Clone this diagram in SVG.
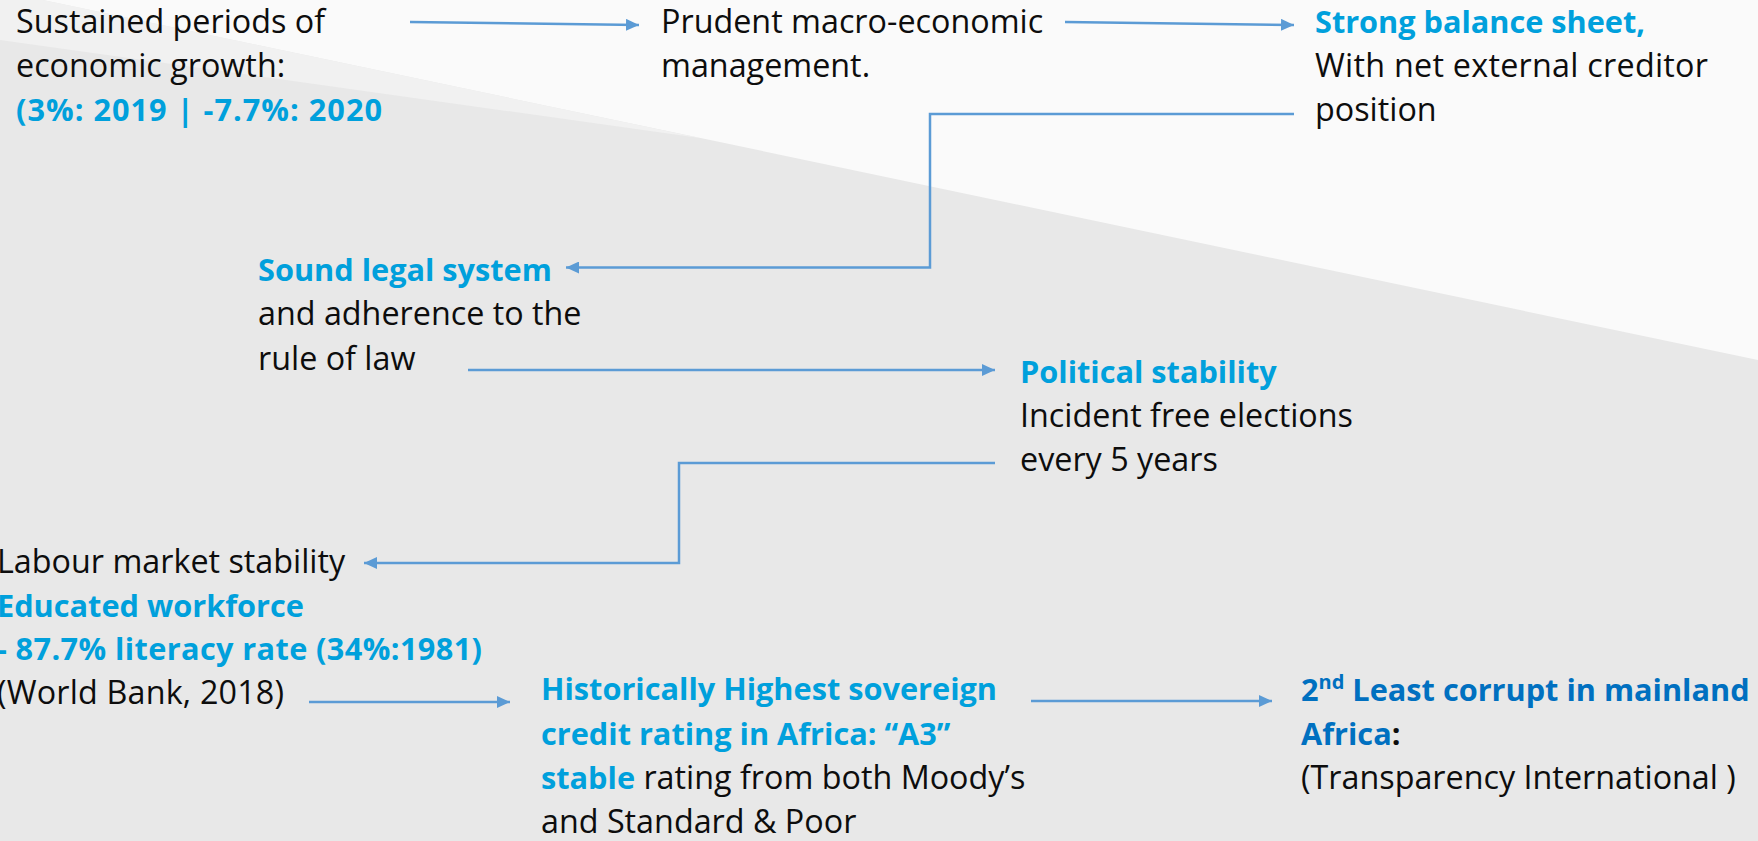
<svg xmlns="http://www.w3.org/2000/svg" width="1758" height="841" viewBox="0 0 1758 841">
<style>
  text { font-family: "Open Sans", "Liberation Sans", sans-serif; font-size: 32.3px; fill: #0d0d0d; }
  .b { font-weight: 700; font-size: 30.7px; fill: #00a0dc; }
  .d { font-weight: 700; font-size: 30.7px; fill: #0070c0; }
  .k { font-weight: 700; font-size: 30.7px; fill: #0d0d0d; }
  .c { fill: none; stroke: #5b9bd5; stroke-width: 2.5; }
</style>
<defs>
  <marker id="ah" markerUnits="userSpaceOnUse" markerWidth="13" markerHeight="12" viewBox="0 0 13 12" refX="13" refY="6" orient="auto">
    <path d="M0,0 L13,6 L0,12 z" fill="#5b9bd5"/>
  </marker>
</defs>
<g id="background">
  <rect x="0" y="0" width="1758" height="841" fill="#e8e8e8"/>
  <polygon points="0,-9 1758,360 1758,0 0,0" fill="#fafafa"/>
  <polygon points="0,-9 0,40 700,138" fill="#f1f1f1"/>
</g>
<g id="connectors">
  <path class="c" d="M410,22 L639,25" marker-end="url(#ah)"/>
  <path class="c" d="M1065,22 L1294,25" marker-end="url(#ah)"/>
  <path class="c" d="M1294,114 H930 V267.5 H566" marker-end="url(#ah)"/>
  <path class="c" d="M468,370 H995" marker-end="url(#ah)"/>
  <path class="c" d="M995,463 H679 V563 H364" marker-end="url(#ah)"/>
  <path class="c" d="M309,702 H510" marker-end="url(#ah)"/>
  <path class="c" d="M1031,701 H1272" marker-end="url(#ah)"/>
</g>
<g id="growth">
  <text x="16" y="33">Sustained periods of</text>
  <text x="16" y="77">economic growth:</text>
  <text x="16" y="121" class="b" textLength="366" lengthAdjust="spacing">(3%: 2019 | -7.7%: 2020</text>
</g>
<g id="macro">
  <text x="661" y="33">Prudent macro-economic</text>
  <text x="661" y="77">management.</text>
</g>
<g id="balance">
  <text x="1315" y="33" class="b" textLength="330" lengthAdjust="spacing">Strong balance sheet,</text>
  <text x="1315" y="77" textLength="393" lengthAdjust="spacing">With net external creditor</text>
  <text x="1315" y="121">position</text>
</g>
<g id="legal">
  <text x="258" y="281" class="b">Sound legal system</text>
  <text x="258" y="325">and adherence to the</text>
  <text x="258" y="370">rule of law</text>
</g>
<g id="political">
  <text x="1020" y="383" class="b">Political stability</text>
  <text x="1020" y="427">Incident free elections</text>
  <text x="1020" y="471">every 5 years</text>
</g>
<g id="labour">
  <text x="-3" y="573">Labour market stability</text>
  <text x="-3" y="616.5" class="b">Educated workforce</text>
  <text x="-3" y="660" class="b" textLength="485" lengthAdjust="spacing">- 87.7% literacy rate (34%:1981)</text>
  <text x="-3" y="703.5" textLength="287" lengthAdjust="spacing">(World Bank, 2018)</text>
</g>
<g id="rating">
  <text x="541" y="700" class="b">Historically Highest sovereign</text>
  <text x="541" y="744.5" class="b">credit rating in Africa: “A3”</text>
  <text x="541" y="789"><tspan class="b">stable</tspan> rating from both Moody’s</text>
  <text x="541" y="833">and Standard &amp; Poor</text>
</g>
<g id="corruption">
  <text x="1301" y="701" class="d">2<tspan font-size="20" dy="-12">nd</tspan><tspan dy="12"> Least corrupt in mainland</tspan></text>
  <text x="1301" y="744.5"><tspan class="d">Africa</tspan><tspan class="k">:</tspan></text>
  <text x="1301" y="789">(Transparency International )</text>
</g>
</svg>
